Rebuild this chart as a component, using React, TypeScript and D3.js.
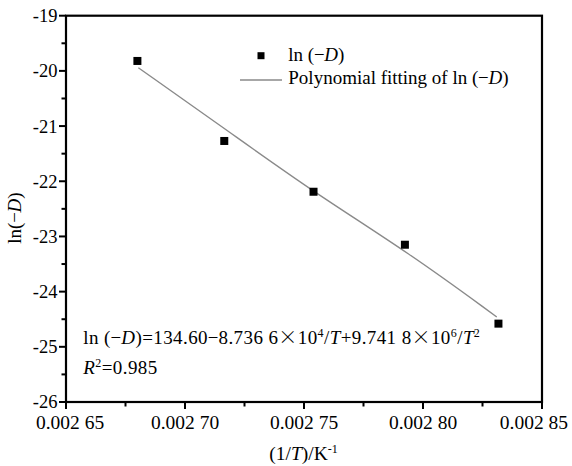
import React from "react";
import * as d3 from "d3";

const invT = [0.00268, 0.0027165, 0.002754, 0.0027924, 0.0028317];
const lnD = [-19.82, -21.27, -22.19, -23.15, -24.58];
const fitInvT = [0.0026804, 0.0027189, 0.0027537, 0.0027945, 0.002831];
const fitLnD = [-19.943, -21.115, -22.188, -23.309, -24.459];
const xTicks = [0.00265, 0.0027, 0.00275, 0.0028, 0.00285];
const xTickLabels = ["0.002 65", "0.002 70", "0.002 75", "0.002 80", "0.002 85"];
const xMinor = [0.002675, 0.002725, 0.002775, 0.002825];
const yTicks = [-26, -25, -24, -23, -22, -21, -20, -19];
const yMinor = [-25.5, -24.5, -23.5, -22.5, -21.5, -20.5, -19.5];

const FONT = "'Liberation Serif', 'Times New Roman', serif";
const CJK = "'Noto Sans CJK SC', sans-serif";

export default function App() {
  const W = 572, H = 466;
  const L = 66, R = 542, T = 15.7, B = 402;
  const x = d3.scaleLinear().domain([0.00265, 0.00285]).range([L, R]);
  const y = d3.scaleLinear().domain([-26, -19]).range([B, T]);
  const line = d3
    .line<number>()
    .x((_, i) => x(fitInvT[i]))
    .y((d) => y(d))
    .curve(d3.curveBasis);

  const sup = (s: string) => (
    <tspan fontSize={12} dy={-7}>{s}</tspan>
  );
  const Times = () => <tspan fontFamily={CJK} fontWeight={300}>×</tspan>;
  const Minus = () => <tspan fontFamily={CJK} fontWeight={300}>−</tspan>;

  return (
    <svg
      width={W}
      height={H}
      style={{ position: "absolute", left: 0, top: 0, background: "#fff" }}
      fontFamily={FONT}
    >
      <rect x={0} y={0} width={W} height={H} fill="#fff" />
      {/* fit line */}
      <path d={line(fitLnD) || ""} fill="none" stroke="#8a8a8a" strokeWidth={1.4} />
      {/* points */}
      {invT.map((v, i) => (
        <rect key={i} x={x(v) - 4} y={y(lnD[i]) - 4} width={8} height={8} fill="#000" />
      ))}
      {/* frame */}
      <rect x={L} y={T} width={R - L} height={B - T} fill="none" stroke="#000" strokeWidth={2.2} />
      {/* x ticks */}
      {xTicks.map((v, i) => {
        const last = i === xTicks.length - 1;
        return (
          <g key={"xt" + i}>
            <line x1={x(v)} x2={x(v)} y1={B} y2={B + 7} stroke="#000" strokeWidth={2} />
            <text
              x={last ? W - 4 : x(v) + (i === 0 ? 4 : 0)}
              y={428.5}
              textAnchor={last ? "end" : "middle"}
              fontSize={19.5}
            >
              {xTickLabels[i]}
            </text>
          </g>
        );
      })}
      {xMinor.map((v, i) => (
        <line key={"xm" + i} x1={x(v)} x2={x(v)} y1={B} y2={B + 4.5} stroke="#000" strokeWidth={2} />
      ))}
      {/* y ticks */}
      {yTicks.map((v, i) => (
        <g key={"yt" + i}>
          <line x1={L - 7} x2={L} y1={y(v)} y2={y(v)} stroke="#000" strokeWidth={2} />
          <text x={57.5} y={y(v)} dy="0.35em" textAnchor="end" fontSize={18.5}>
            {String(v)}
          </text>
        </g>
      ))}
      {yMinor.map((v, i) => (
        <line key={"ym" + i} x1={L - 4.5} x2={L} y1={y(v)} y2={y(v)} stroke="#000" strokeWidth={2} />
      ))}
      {/* legend */}
      <rect x={257.5} y={52.2} width={7} height={7} fill="#000" />
      <text x={288.3} y={61} fontSize={19}>
        ln (<Minus /><tspan fontStyle="italic">D</tspan>)
      </text>
      <line x1={240} x2={282} y1={80} y2={80} stroke="#8a8a8a" strokeWidth={1.4} />
      <text x={288.3} y={84} fontSize={19}>
        Polynomial fitting of ln (<Minus /><tspan fontStyle="italic">D</tspan>)
      </text>
      {/* equation */}
      <text x={83.3} y={343.5} fontSize={19} letterSpacing={0.4}>
        ln (<Minus /><tspan fontStyle="italic">D</tspan>)=134.60<Minus />8.736 6<Times />10
        {sup("4")}
        <tspan dy={7}>/</tspan>
        <tspan fontStyle="italic">T</tspan>+9.741 8<Times />10
        {sup("6")}
        <tspan dy={7}>/</tspan>
        <tspan fontStyle="italic">T</tspan>
        {sup("2")}
      </text>
      <text x={83.3} y={373.5} fontSize={19} letterSpacing={0.4}>
        <tspan fontStyle="italic">R</tspan>
        {sup("2")}
        <tspan dy={7}>=0.985</tspan>
      </text>
      {/* axis labels */}
      <text x={303.5} y={460} textAnchor="middle" fontSize={19.5}>
        (1/<tspan fontStyle="italic">T</tspan>)/K
        {sup("-1")}
      </text>
      <text transform="translate(21,218) rotate(-90)" textAnchor="middle" fontSize={19}>
        ln(<Minus /><tspan fontStyle="italic">D</tspan>)
      </text>
    </svg>
  );
}
